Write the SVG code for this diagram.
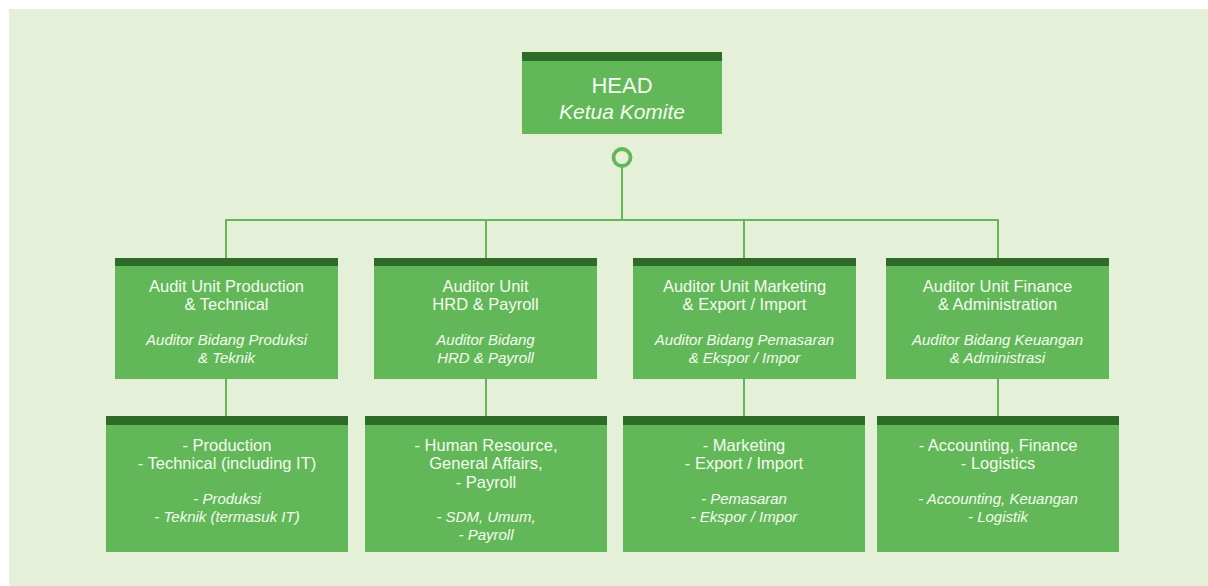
<svg xmlns="http://www.w3.org/2000/svg" width="1208" height="586" viewBox="0 0 1208 586">
<style>
.box{fill:#62b858}
.band{fill:#2e6b28}
.ln{stroke:#62b858;stroke-width:2;fill:none}
text{font-family:"Liberation Sans",Arial,sans-serif;fill:#f4faef;text-anchor:middle;font-size:16.5px}
.i{font-size:15px;font-style:italic}
.h{font-size:22px}
.hi{font-size:21px;font-style:italic}
</style>
<rect x="0" y="0" width="1208" height="586" fill="#ffffff"/>
<rect x="9" y="9" width="1199" height="577" fill="#e4f0d7"/>
<g id="connectors">
<line class="ln" x1="622" y1="166" x2="622" y2="220"/>
<polyline class="ln" points="226,258 226,220 998,220 998,258"/>
<line class="ln" x1="486" y1="220" x2="486" y2="258"/>
<line class="ln" x1="744" y1="220" x2="744" y2="258"/>
<line class="ln" x1="226" y1="378" x2="226" y2="416"/>
<line class="ln" x1="486" y1="378" x2="486" y2="416"/>
<line class="ln" x1="744" y1="378" x2="744" y2="416"/>
<line class="ln" x1="998" y1="378" x2="998" y2="416"/>
<circle cx="622" cy="157.5" r="8.5" fill="#e4f0d7" stroke="#62b858" stroke-width="3.8"/>
</g>
<g id="head">
<rect class="box" x="522" y="52" width="200" height="82"/>
<rect class="band" x="522" y="52" width="200" height="9"/>
<text><tspan class="h" x="622" y="93">HEAD</tspan><tspan class="hi" x="622" y="119">Ketua Komite</tspan></text>
</g>
<g id="unit1">
<rect class="box" x="115" y="258" width="223" height="121"/>
<rect class="band" x="115" y="258" width="223" height="8"/>
<text><tspan x="226.5" y="291.5">Audit Unit Production</tspan><tspan x="226.5" y="310">&amp; Technical</tspan><tspan class="i" x="226.5" y="345">Auditor Bidang Produksi</tspan><tspan class="i" x="226.5" y="362.5">&amp; Teknik</tspan></text>
</g>
<g id="unit2">
<rect class="box" x="374" y="258" width="223" height="121"/>
<rect class="band" x="374" y="258" width="223" height="8"/>
<text><tspan x="485.5" y="291.5">Auditor Unit</tspan><tspan x="485.5" y="310">HRD &amp; Payroll</tspan><tspan class="i" x="485.5" y="345">Auditor Bidang</tspan><tspan class="i" x="485.5" y="362.5">HRD &amp; Payroll</tspan></text>
</g>
<g id="unit3">
<rect class="box" x="633" y="258" width="223" height="121"/>
<rect class="band" x="633" y="258" width="223" height="8"/>
<text><tspan x="744.5" y="291.5">Auditor Unit Marketing</tspan><tspan x="744.5" y="310">&amp; Export / Import</tspan><tspan class="i" x="744.5" y="344.5">Auditor Bidang Pemasaran</tspan><tspan class="i" x="744.5" y="362.5">&amp; Ekspor / Impor</tspan></text>
</g>
<g id="unit4">
<rect class="box" x="886" y="258" width="223" height="121"/>
<rect class="band" x="886" y="258" width="223" height="8"/>
<text><tspan x="997.5" y="291.5">Auditor Unit Finance</tspan><tspan x="997.5" y="310">&amp; Administration</tspan><tspan class="i" x="997.5" y="345">Auditor Bidang Keuangan</tspan><tspan class="i" x="997.5" y="362.5">&amp; Administrasi</tspan></text>
</g>
<g id="scope1">
<rect class="box" x="106" y="416" width="242" height="136"/>
<rect class="band" x="106" y="416" width="242" height="9"/>
<text><tspan x="227" y="450.5">- Production</tspan><tspan x="227" y="469">- Technical (including IT)</tspan><tspan class="i" x="227" y="503.5">- Produksi</tspan><tspan class="i" x="227" y="521.5">- Teknik (termasuk IT)</tspan></text>
</g>
<g id="scope2">
<rect class="box" x="365" y="416" width="242" height="136"/>
<rect class="band" x="365" y="416" width="242" height="9"/>
<text><tspan x="486" y="450.5">- Human Resource,</tspan><tspan x="486" y="469">General Affairs,</tspan><tspan x="486" y="487.5">- Payroll</tspan><tspan class="i" x="486" y="521.5">- SDM, Umum,</tspan><tspan class="i" x="486" y="539.5">- Payroll</tspan></text>
</g>
<g id="scope3">
<rect class="box" x="623" y="416" width="242" height="136"/>
<rect class="band" x="623" y="416" width="242" height="9"/>
<text><tspan x="744" y="450.5">- Marketing</tspan><tspan x="744" y="469">- Export / Import</tspan><tspan class="i" x="744" y="503.5">- Pemasaran</tspan><tspan class="i" x="744" y="521.5">- Ekspor / Impor</tspan></text>
</g>
<g id="scope4">
<rect class="box" x="877" y="416" width="242" height="136"/>
<rect class="band" x="877" y="416" width="242" height="9"/>
<text><tspan x="998" y="450.5">- Accounting, Finance</tspan><tspan x="998" y="469">- Logistics</tspan><tspan class="i" x="998" y="503.5">- Accounting, Keuangan</tspan><tspan class="i" x="998" y="521.5">- Logistik</tspan></text>
</g>
</svg>
